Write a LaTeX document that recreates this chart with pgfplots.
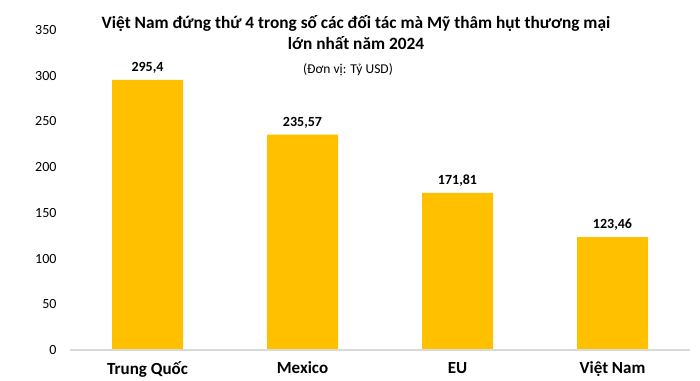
\documentclass[border=0pt]{standalone}
\usepackage{fontspec}
\setmainfont{Carlito}
\usepackage{pgfplots}
\pgfplotsset{compat=1.18}
\definecolor{barc}{HTML}{FFC000}
\definecolor{basec}{HTML}{D9D9D9}
\begin{document}
\begin{tikzpicture}[x=1pt,y=1pt]
\path[use as bounding box] (0,0) rectangle (700,380);
\begin{axis}[
  at={(70pt,30pt)}, anchor=south west,
  scale only axis, width=620pt, height=320pt,
  xmin=-0.5, xmax=3.5, ymin=0, ymax=350,
  axis line style={draw=none},
  axis x line*=bottom, axis y line*=left,
  ytick={0,50,...,350},
  xtick=data,
  xticklabels={Trung Quốc, Mexico, EU, Việt Nam},
  x tick label style={font=\fontsize{17}{20}\selectfont\bfseries, yshift=-8.5pt},
  y tick label style={font=\fontsize{14}{16}\selectfont, xshift=-10pt},
  /pgf/number format/assume math mode=true,
  major tick length=0pt,
  ybar, bar width=71pt,
  nodes near coords,
  every node near coord/.append style={font=\fontsize{14}{16}\selectfont\bfseries, yshift=3pt},
  nodes near coords style={/pgf/number format/.cd, use comma, fixed, precision=2, 1000 sep={}},
  clip=false,
]
\addplot[fill=barc, draw=none] coordinates {(0,295.4) (1,235.57) (2,171.81) (3,123.46)};
\draw[basec, line width=1.2pt] (axis cs:-0.5,0) -- (axis cs:3.5,0);
\end{axis}
\node[font=\fontsize{17.3}{21}\selectfont\bfseries, align=center] at (356,347) {Việt Nam đứng thứ 4 trong số các đối tác mà Mỹ thâm hụt thương mại\\lớn nhất năm 2024};
\node[font=\fontsize{13.5}{15}\selectfont] at (348,310) {(Đơn vị: Tỷ USD)};
\end{tikzpicture}
\end{document}
